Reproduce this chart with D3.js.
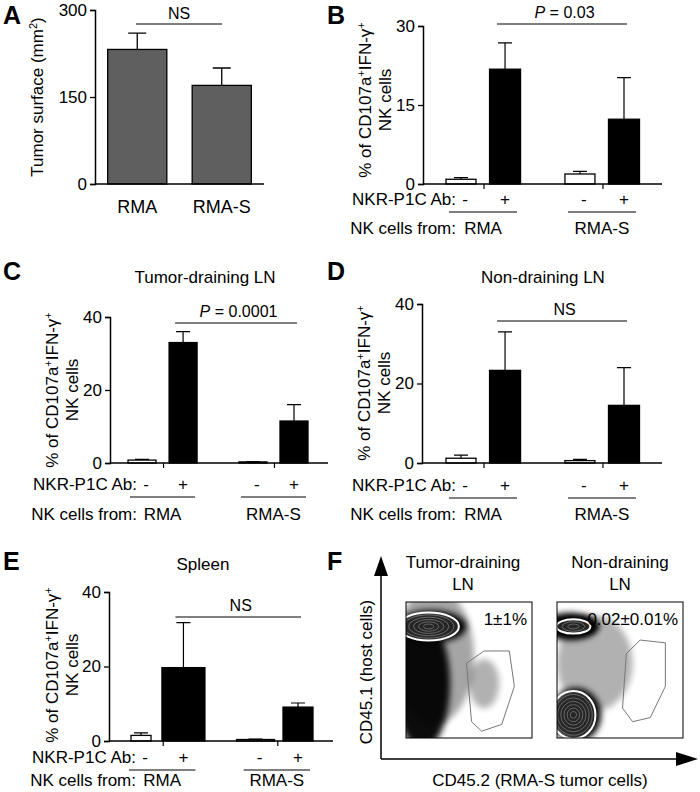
<!DOCTYPE html>
<html>
<head>
<script src="https://cdn.jsdelivr.net/npm/d3@7"></script>
<style>
body { margin: 0; background: #fff; }
svg text { font-family: "Liberation Sans", Arial, sans-serif; fill: #000; }
</style>
</head>
<body>
<div id="fig"></div>
<script>
// ---- data ----
var tumorGroups = ["RMA", "RMA-S"];
var tumorSurface = [232, 170];
var tumorSurfaceErr = [260, 200];

var abLabels = ["-", "+", "-", "+"];
var donorLabels = ["RMA", "RMA-S"];

var bValues = [0.9, 21.8, 1.9, 12.3];
var bErr = [1.2, 26.8, 2.4, 20.2];
var cValues = [0.8, 33, 0.3, 11.5];
var cErr = [1.0, 36, 0.4, 16];
var dValues = [1.2, 23.3, 0.6, 14.5];
var dErr = [2.0, 33, 0.9, 24];
var eValues = [1.5, 19.7, 0.4, 9.1];
var eErr = [2.2, 31.8, 0.5, 10.2];

var fPercent = ["1\u00B11%", "0.02\u00B10.01%"];
var fTitles = [["Tumor-draining", "LN"], ["Non-draining", "LN"]];

var FS = 17;

var svg = d3.select("#fig").append("svg")
	.attr("width", 700).attr("height", 792);

svg.append("defs").append("filter").attr("id", "haze")
	.attr("x", "-50%").attr("y", "-50%").attr("width", "200%").attr("height", "200%")
	.append("feGaussianBlur").attr("stdDeviation", 3);

function letter(t, x, y) {
	svg.append("text").attr("x", x).attr("y", y)
		.attr("font-size", 25).attr("font-weight", "bold").text(t);
}

function yLabel(lines, x, y, size) {
	var t = svg.append("text")
		.attr("transform", "translate(" + x + "," + y + ") rotate(-90)")
		.attr("text-anchor", "middle").attr("font-size", size || FS);
	lines.forEach(function(l, i) {
		var ts = t.append("tspan").attr("x", 0).attr("dy", i ? 20 : 0);
		l.forEach(function(p) {
			var s = ts.append("tspan").text(p[0]);
			if (p[1]) s.attr("baseline-shift", "super").attr("font-size", 11);
		});
	});
}

function styleAxis(s) {
	s.selectAll("text").attr("font-size", FS).attr("font-family", "Liberation Sans, Arial");
	s.select(".domain").attr("stroke-width", 1.5);
	s.selectAll(".tick line").attr("stroke-width", 1.3);
}

// ---- panel A ----
letter("A", 3, 24);
var aY = d3.scaleLinear().domain([0, 300]).range([184, 10]);
var aX = d3.scaleBand().domain(tumorGroups).range([95, 264]).paddingInner(0.3).paddingOuter(0.15);
var ga = svg.append("g");
ga.append("g").attr("transform", "translate(95,0)")
	.call(d3.axisLeft(aY).tickValues([0, 150, 300]).tickSize(5)).call(styleAxis);
ga.selectAll(".err").data(tumorGroups).enter().append("path")
	.attr("fill", "none").attr("stroke", "#000").attr("stroke-width", 1.3)
	.attr("d", function(d, i) {
		var cx = aX(d) + aX.bandwidth() / 2;
		return "M" + cx + "," + aY(tumorSurface[i]) + "V" + aY(tumorSurfaceErr[i]) + "M" + (cx - 9) + "," + aY(tumorSurfaceErr[i]) + "H" + (cx + 9);
	});
ga.selectAll(".bar").data(tumorGroups).enter().append("rect")
	.attr("x", function(d) { return aX(d); }).attr("width", aX.bandwidth())
	.attr("y", function(d, i) { return aY(tumorSurface[i]); })
	.attr("height", function(d, i) { return aY(0) - aY(tumorSurface[i]); })
	.attr("fill", "#5f5f5f").attr("stroke", "#000").attr("stroke-width", 1.3);
ga.append("line").attr("x1", 95).attr("x2", 264).attr("y1", aY(0)).attr("y2", aY(0)).attr("stroke", "#000").attr("stroke-width", 1.5);
ga.selectAll(".xl").data(tumorGroups).enter().append("text")
	.attr("x", function(d) { return aX(d) + aX.bandwidth() / 2; }).attr("y", 213)
	.attr("text-anchor", "middle").attr("font-size", 18).text(function(d) { return d; });
ga.append("line").attr("x1", 136).attr("x2", 222).attr("y1", 24).attr("y2", 24).attr("stroke", "#000").attr("stroke-width", 1.2);
ga.append("text").attr("x", 179).attr("y", 19).attr("text-anchor", "middle").attr("font-size", 16).text("NS");
yLabel([[["Tumor surface (mm", 0], ["2", 1], [")", 0]]], 43, 97, FS);

// ---- NK bar panels ----
var slots = [0, 1, 2.7, 3.7];

function nkPanel(o) {
	var y = d3.scaleLinear().domain([0, o.max]).range([o.y0, o.yTop]);
	var x = d3.scaleLinear().domain([0, 3.7]).range([o.c0, o.c3]);
	var g = svg.append("g");
	g.append("g").attr("transform", "translate(" + o.ax + ",0)")
		.call(d3.axisLeft(y).tickValues([0, o.max / 2, o.max]).tickSize(5)).call(styleAxis);
	g.selectAll(".err").data(o.values).enter().append("path")
		.attr("fill", "none").attr("stroke", "#000").attr("stroke-width", 1.2)
		.attr("d", function(d, i) {
			var cx = x(slots[i]);
			return "M" + cx + "," + y(d) + "V" + y(o.err[i]) + "M" + (cx - 7) + "," + y(o.err[i]) + "H" + (cx + 7);
		});
	g.selectAll(".bar").data(o.values).enter().append("rect")
		.attr("x", function(d, i) { return x(slots[i]) - o.bw[i] / 2; })
		.attr("width", function(d, i) { return o.bw[i]; })
		.attr("y", function(d) { return y(d); })
		.attr("height", function(d) { return y(0) - y(d); })
		.attr("fill", function(d, i) { return i % 2 ? "#000" : "#fff"; })
		.attr("stroke", "#000").attr("stroke-width", 1.3);
	g.append("line").attr("x1", o.ax).attr("x2", o.axEnd).attr("y1", y(0)).attr("y2", y(0)).attr("stroke", "#000").attr("stroke-width", 1.5);
	[0.5, 3.2].forEach(function(s) {
		g.append("line").attr("x1", x(s) + 1).attr("x2", x(s) + 1).attr("y1", y(0)).attr("y2", y(0) + 5).attr("stroke", "#000").attr("stroke-width", 1.2);
	});
	// significance bar
	g.append("line").attr("x1", x(1) - 8).attr("x2", x(3.7) + 3).attr("y1", o.sigY).attr("y2", o.sigY).attr("stroke", "#000").attr("stroke-width", 1.2);
	var st = g.append("text").attr("x", (x(1) + x(3.7)) / 2).attr("y", o.sigY - 6).attr("text-anchor", "middle").attr("font-size", 16);
	if (o.p) { st.append("tspan").attr("font-style", "italic").text("P"); st.append("tspan").text(" = " + o.p); }
	else st.text("NS");
	// labels
	var r1 = o.y0 + o.row1, r2 = o.y0 + o.row2;
	g.append("text").attr("x", x(0) - 5).attr("y", r1).attr("text-anchor", "end").attr("font-size", FS).text("NKR-P1C Ab:");
	g.selectAll(".ab").data(abLabels).enter().append("text")
		.attr("x", function(d, i) { return x(slots[i]) + (i % 2 ? 0 : 4); }).attr("y", r1)
		.attr("text-anchor", "middle").attr("font-size", FS).text(function(d) { return d; });
	[0, 2.7].forEach(function(s) {
		g.append("line").attr("x1", x(s) - 12).attr("x2", x(s + 1) + 12).attr("y1", r1 + 7).attr("y2", r1 + 7).attr("stroke", "#000").attr("stroke-width", 1.2);
	});
	g.append("text").attr("x", x(0) - 5).attr("y", r2).attr("text-anchor", "end").attr("font-size", FS).text("NK cells from:");
	g.selectAll(".don").data(donorLabels).enter().append("text")
		.attr("x", function(d, i) { return x(i * 2.7 + 0.5); }).attr("y", r2)
		.attr("text-anchor", "middle").attr("font-size", FS).text(function(d) { return d; });
	if (o.title) g.append("text").attr("x", o.titleX).attr("y", o.titleY).attr("text-anchor", "middle").attr("font-size", FS).text(o.title);
	yLabel([[["% of CD107a", 0], ["+", 1], ["IFN-\u03B3", 0], ["+", 1]], [["NK cells", 0]]], o.labX, o.labY, FS);
}

letter("B", 327, 24);
nkPanel({ values: bValues, err: bErr, max: 30, ax: 423, axEnd: 662, y0: 184, yTop: 26,
	c0: 461, c3: 624, bw: [30, 31, 30, 31], sigY: 24, p: "0.03", row1: 21, row2: 50, labX: 371, labY: 100 });
letter("C", 3, 280);
nkPanel({ values: cValues, err: cErr, max: 40, ax: 110, axEnd: 328, y0: 463, yTop: 317,
	c0: 142, c3: 294, bw: [28, 28, 28, 28], sigY: 323, p: "0.0001", row1: 27, row2: 57,
	title: "Tumor-draining LN", titleX: 205, titleY: 283, labX: 58, labY: 390 });
letter("D", 327, 280);
nkPanel({ values: dValues, err: dErr, max: 40, ax: 422, axEnd: 662, y0: 463, yTop: 304,
	c0: 461, c3: 624, bw: [30, 31, 30, 31], sigY: 321, p: null, row1: 28, row2: 57,
	title: "Non-draining LN", titleX: 543, titleY: 283, labX: 370, labY: 383 });
letter("E", 3, 570);
nkPanel({ values: eValues, err: eErr, max: 40, ax: 109, axEnd: 333, y0: 741, yTop: 592,
	c0: 141, c3: 298, bw: [20, 43, 38, 30], sigY: 617, p: null, row1: 22, row2: 45,
	title: "Spleen", titleX: 203, titleY: 570, labX: 58, labY: 665 });

// ---- panel F ----
letter("F", 327, 570);
var fBoxes = [406, 557];
var fPlotW = 126, fTop = 602, fH = 136;
// clusters in plot units (0..1, y up): cx, cy, rx, ry, contour rings, shade
var fClusters = [
	[[0.22, 0.6, 0.32, 0.5, 0, 0.35], [0.13, 0.4, 0.22, 0.48, 0, 0.95], [0.2, 0.82, 0.28, 0.12, 6, 1], [0.62, 0.4, 0.12, 0.18, 0, 0.3]],
	[[0.3, 0.55, 0.3, 0.35, 0, 0.3], [0.1, 0.82, 0.22, 0.1, 0, 1], [0.15, 0.82, 0.18, 0.07, 3, 1], [0.15, 0.17, 0.2, 0.2, 7, 1]]
];
var fGate = [[0.52, 0.12], [0.48, 0.55], [0.62, 0.64], [0.82, 0.64], [0.86, 0.38], [0.76, 0.1], [0.6, 0.05]];
var fGate2 = [[0.52, 0.22], [0.55, 0.62], [0.66, 0.72], [0.86, 0.7], [0.86, 0.38], [0.74, 0.15], [0.6, 0.12]];

fBoxes.forEach(function(bx, k) {
	var sx = d3.scaleLinear().domain([0, 1]).range([bx, bx + fPlotW]);
	var sy = d3.scaleLinear().domain([0, 1]).range([fTop + fH, fTop]);
	var g = svg.append("g");
	var cp = "clip" + k;
	svg.select("defs").append("clipPath").attr("id", cp).append("rect")
		.attr("x", bx).attr("y", fTop).attr("width", fPlotW).attr("height", fH);
	var inner = g.append("g").attr("clip-path", "url(#" + cp + ")");
	fClusters[k].forEach(function(c) {
		inner.append("ellipse").attr("cx", sx(c[0])).attr("cy", sy(c[1]))
			.attr("rx", sx(c[2]) - sx(0)).attr("ry", sy(0) - sy(c[3]))
			.attr("fill", "#000").attr("opacity", c[5])
			.attr("filter", "url(#haze)");
	});
	fClusters[k].forEach(function(c) {
		for (var r = c[4]; r > 0; r--) {
			var f = r / (c[4] + 1);
			inner.append("ellipse").attr("cx", sx(c[0] - 0.02)).attr("cy", sy(c[1]))
				.attr("rx", (sx(c[2]) - sx(0)) * f).attr("ry", (sy(0) - sy(c[3])) * f)
				.attr("fill", r === c[4] ? "#fff" : "none").attr("fill-opacity", 0.15)
				.attr("stroke", r === c[4] ? "#fff" : "#777").attr("stroke-width", r === c[4] ? 2 : 0.8);
		}
	});
	g.append("path").datum(k ? fGate2 : fGate)
		.attr("d", d3.line().x(function(d) { return sx(d[0]); }).y(function(d) { return sy(d[1]); }).curve(d3.curveLinearClosed))
		.attr("fill", "none").attr("stroke", "#777").attr("stroke-width", 1);
	g.append("rect").attr("x", bx).attr("y", fTop).attr("width", fPlotW).attr("height", fH)
		.attr("fill", "none").attr("stroke", "#000").attr("stroke-width", 1);
	g.append("text").attr("x", bx + fPlotW - 5).attr("y", fTop + 23).attr("text-anchor", "end").attr("font-size", FS).text(fPercent[k]);
	fTitles[k].forEach(function(t, i) {
		g.append("text").attr("x", bx + fPlotW / 2 - (k ? 0 : 6)).attr("y", 568 + i * 22).attr("text-anchor", "middle").attr("font-size", FS).text(t);
	});
});
// big arrow axes
svg.append("path").attr("d", "M381,759V572").attr("stroke", "#000").attr("stroke-width", 1.5);
svg.append("path").attr("d", "M374,576L381,556L388,576Z").attr("fill", "#000");
svg.append("path").attr("d", "M381,759H680").attr("stroke", "#000").attr("stroke-width", 1.5);
svg.append("path").attr("d", "M676,752L698,759L676,766Z").attr("fill", "#000");
svg.append("text").attr("x", 540).attr("y", 786).attr("text-anchor", "middle").attr("font-size", FS).text("CD45.2 (RMA-S tumor cells)");
svg.append("text").attr("transform", "translate(372,672) rotate(-90)").attr("text-anchor", "middle").attr("font-size", FS).text("CD45.1 (host cells)");
</script>
</body>
</html>
